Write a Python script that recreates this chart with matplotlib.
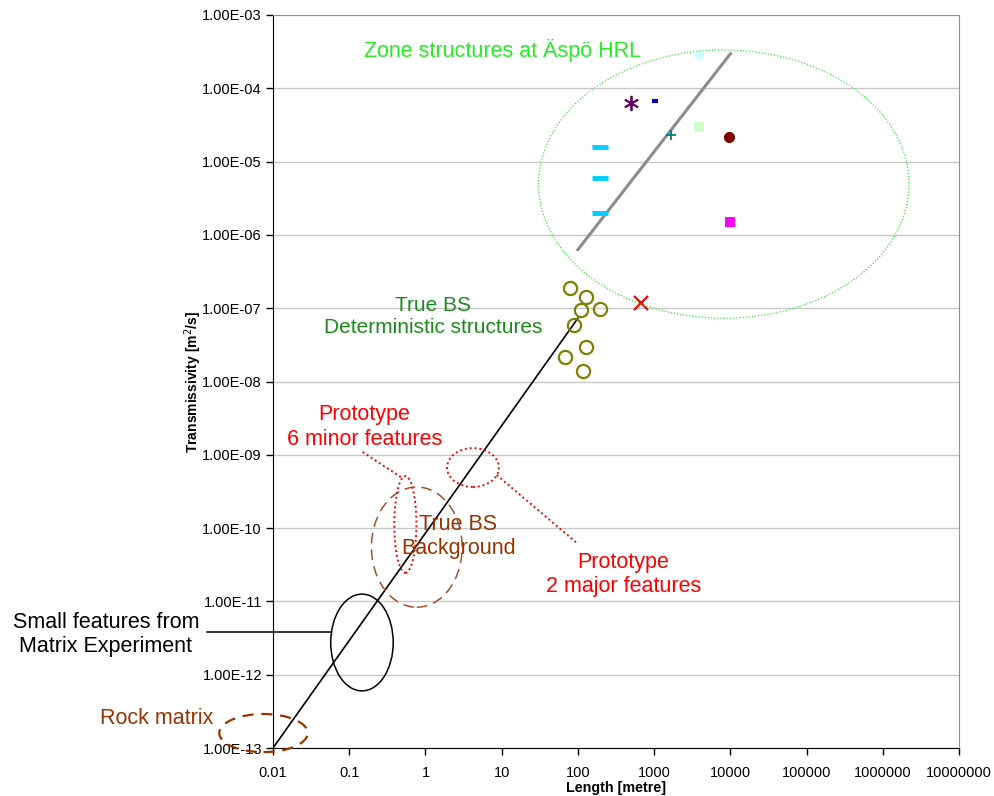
import numpy as np
import matplotlib
matplotlib.use("Agg")
import matplotlib.pyplot as plt
from matplotlib.patches import Ellipse
from matplotlib.ticker import FixedLocator, FuncFormatter, NullLocator

plt.rcParams["font.family"] = ["Liberation Sans", "DejaVu Sans"]

# fitted trend lines (length [m], transmissivity [m2/s])
trend_len = [0.01, 100]
trend_T = [1.0e-13, 7.3e-8]
zone_trend_len = [100, 10000]
zone_trend_T = [6.3e-7, 2.95e-4]

# True BS deterministic structures
bs_len = [78, 128, 109, 193, 88, 127, 68, 117]
bs_T = [1.9e-7, 1.4e-7, 9.4e-8, 9.8e-8, 5.9e-8, 2.95e-8, 2.15e-8, 1.4e-8]

# single zone structures at Aspo HRL: (length, T, marker, colour, size, edge width)
zones = [
    (683, 1.17e-7, "x", "#FF0000", 10, 1.6),
    (3830, 2.85e-4, "D", "#CCFFFF", 6, 0),
    (500, 6.3e-5, (6, 2, 0), "#660066", 11, 1.3),
    (1030, 6.7e-5, "_", "#0000CC", 5, 3),
    (3900, 3.0e-5, "s", "#CCFFCC", 7.5, 0),
    (1650, 2.3e-5, "+", "#008080", 7, 1.3),
    (9700, 2.2e-5, "o", "#800000", 8, 0),
    (10000, 1.5e-6, "s", "#FF00FF", 7.5, 0),
]
# repeated measurements at ~200 m
dash_len = [195, 195, 195]
dash_T = [1.58e-5, 5.9e-6, 1.97e-6]

x_ticks = [0.01, 0.1, 1, 10, 100, 1000, 10000, 100000, 1000000, 10000000]
x_labels = ["0.01", "0.1", "1", "10", "100", "1000", "10000", "100000", "1000000", "10000000"]
y_ticks = [10.0 ** e for e in range(-13, -2)]

XLIM = (0.01, 1e7)
YLIM = (1e-13, 1e-3)

fig = plt.figure(figsize=(9.94, 7.96), dpi=100)
ax = fig.add_axes([273 / 994, 1 - 748 / 796, 686 / 994, 733 / 796])
ax.set_xscale("log")
ax.set_yscale("log")
ax.set_xlim(*XLIM)
ax.set_ylim(*YLIM)

ax.yaxis.set_major_locator(FixedLocator(y_ticks))
ax.yaxis.set_minor_locator(NullLocator())
ax.yaxis.set_major_formatter(FuncFormatter(lambda v, p: f"{v:.2E}"))
ax.xaxis.set_major_locator(FixedLocator(x_ticks))
ax.xaxis.set_minor_locator(NullLocator())
ax.set_xticklabels(x_labels)
ax.tick_params(axis="both", direction="out", length=5, width=1, labelsize=10.5)
ax.tick_params(axis="y", pad=3)
ax.tick_params(axis="x", pad=8)
ax.grid(axis="y", color="#C8C8C8", lw=1)
ax.set_axisbelow(True)
for side in ["top", "right"]:
    ax.spines[side].set_color("#909090")
for side in ["left", "bottom"]:
    ax.spines[side].set_color("black")

ax.set_xlabel("Length [metre]", fontsize=10.3, fontweight="bold", labelpad=1)
ax.set_ylabel("Transmissivity [m$^2$/s]", fontsize=10, fontweight="bold", labelpad=-1)

ax.plot(trend_len, trend_T, color="black", lw=1.2, zorder=3)
ax.plot(zone_trend_len, zone_trend_T, color="#8C8C8C", lw=2.2, zorder=3)

ax.plot(bs_len, bs_T, ls="none", marker="o", ms=9.5, mfc="none", mec="#808000", mew=1.6, zorder=4)
for L, T, m, c, s, ew in zones:
    ax.plot([L], [T], ls="none", marker=m, ms=s, color=c, mec=c, mew=ew, zorder=4)
ax.plot(dash_len, dash_T, ls="none", marker="_", ms=11, color="#00CCFF", mew=3.5, zorder=4)


def log_frac(v, lim):
    return (np.log10(v) - np.log10(lim[0])) / (np.log10(lim[1]) - np.log10(lim[0]))


def ring(x, y, w_dec, h_dec, **kw):
    # ellipse centred at (x, y), size given in decades
    e = Ellipse((log_frac(x, XLIM), log_frac(y, YLIM)),
                w_dec / 9.0, h_dec / 10.0, transform=ax.transAxes,
                fill=False, clip_on=False, zorder=5, **kw)
    ax.add_patch(e)


brown = "#993300"
red = "#FF0000"

ring(8200, 4.94e-6, 4.86, 3.66, ec="#33EE33", lw=0.9, ls=(0, (1, 1.5)))
ring(0.147, 2.75e-12, 0.82, 1.32, ec="black", lw=1.1)
ring(0.0075, 1.6e-13, 1.16, 0.52, ec=brown, lw=1.6, ls=(0, (5, 3.5)))
ring(0.77, 5.5e-11, 1.19, 1.64, ec="#A0522D", lw=1.1, ls=(0, (7, 4)))
ring(0.545, 1.12e-10, 0.29, 1.32, ec=red, lw=1.4, ls=(0, (1, 1.5)))
ring(4.2, 6.7e-10, 0.68, 0.53, ec=red, lw=1.4, ls=(0, (1, 1.5)))

# leader lines
ax.plot([0.15, 0.5], [1.09e-9, 4.8e-10], color=red, lw=1.4, ls=(0, (1, 1.5)), clip_on=False, zorder=5)
ax.plot([8.6, 100], [5.3e-10, 6.1e-11], color=red, lw=1.4, ls=(0, (1, 1.5)), clip_on=False, zorder=5)
ax.plot([0.00137, 0.057], [3.83e-12, 3.83e-12], color="black", lw=1.1, clip_on=False, zorder=5)

fs = 15.5
ax.text(10.4, 3.3e-4, "Zone structures at Äspö HRL", color="#22EE22", fontsize=fs,
        ha="center", va="center", zorder=6)
ax.text(1.26, 7.8e-8, "True BS\nDeterministic structures", color="#1A8C1A", fontsize=15,
        ha="center", va="center", zorder=6)
ax.text(0.159, 2.4e-9, "Prototype\n6 minor features", color=red, fontsize=fs,
        ha="center", va="center", zorder=6)
ax.text(394, 2.3e-11, "Prototype\n2 major features", color=red, fontsize=fs,
        ha="center", va="center", zorder=6)
ax.text(2.68, 7.6e-11, "True BS\nBackground", color=brown, fontsize=fs,
        ha="center", va="center", zorder=6)
ax.text(6.4e-5, 3.5e-12, "Small features from\nMatrix Experiment", color="black", fontsize=fs,
        ha="center", va="center", clip_on=False, zorder=6)
ax.text(2.97e-4, 2.5e-13, "Rock matrix", color=brown, fontsize=fs,
        ha="center", va="center", clip_on=False, zorder=6)

fig.savefig("out.png", dpi=100)
